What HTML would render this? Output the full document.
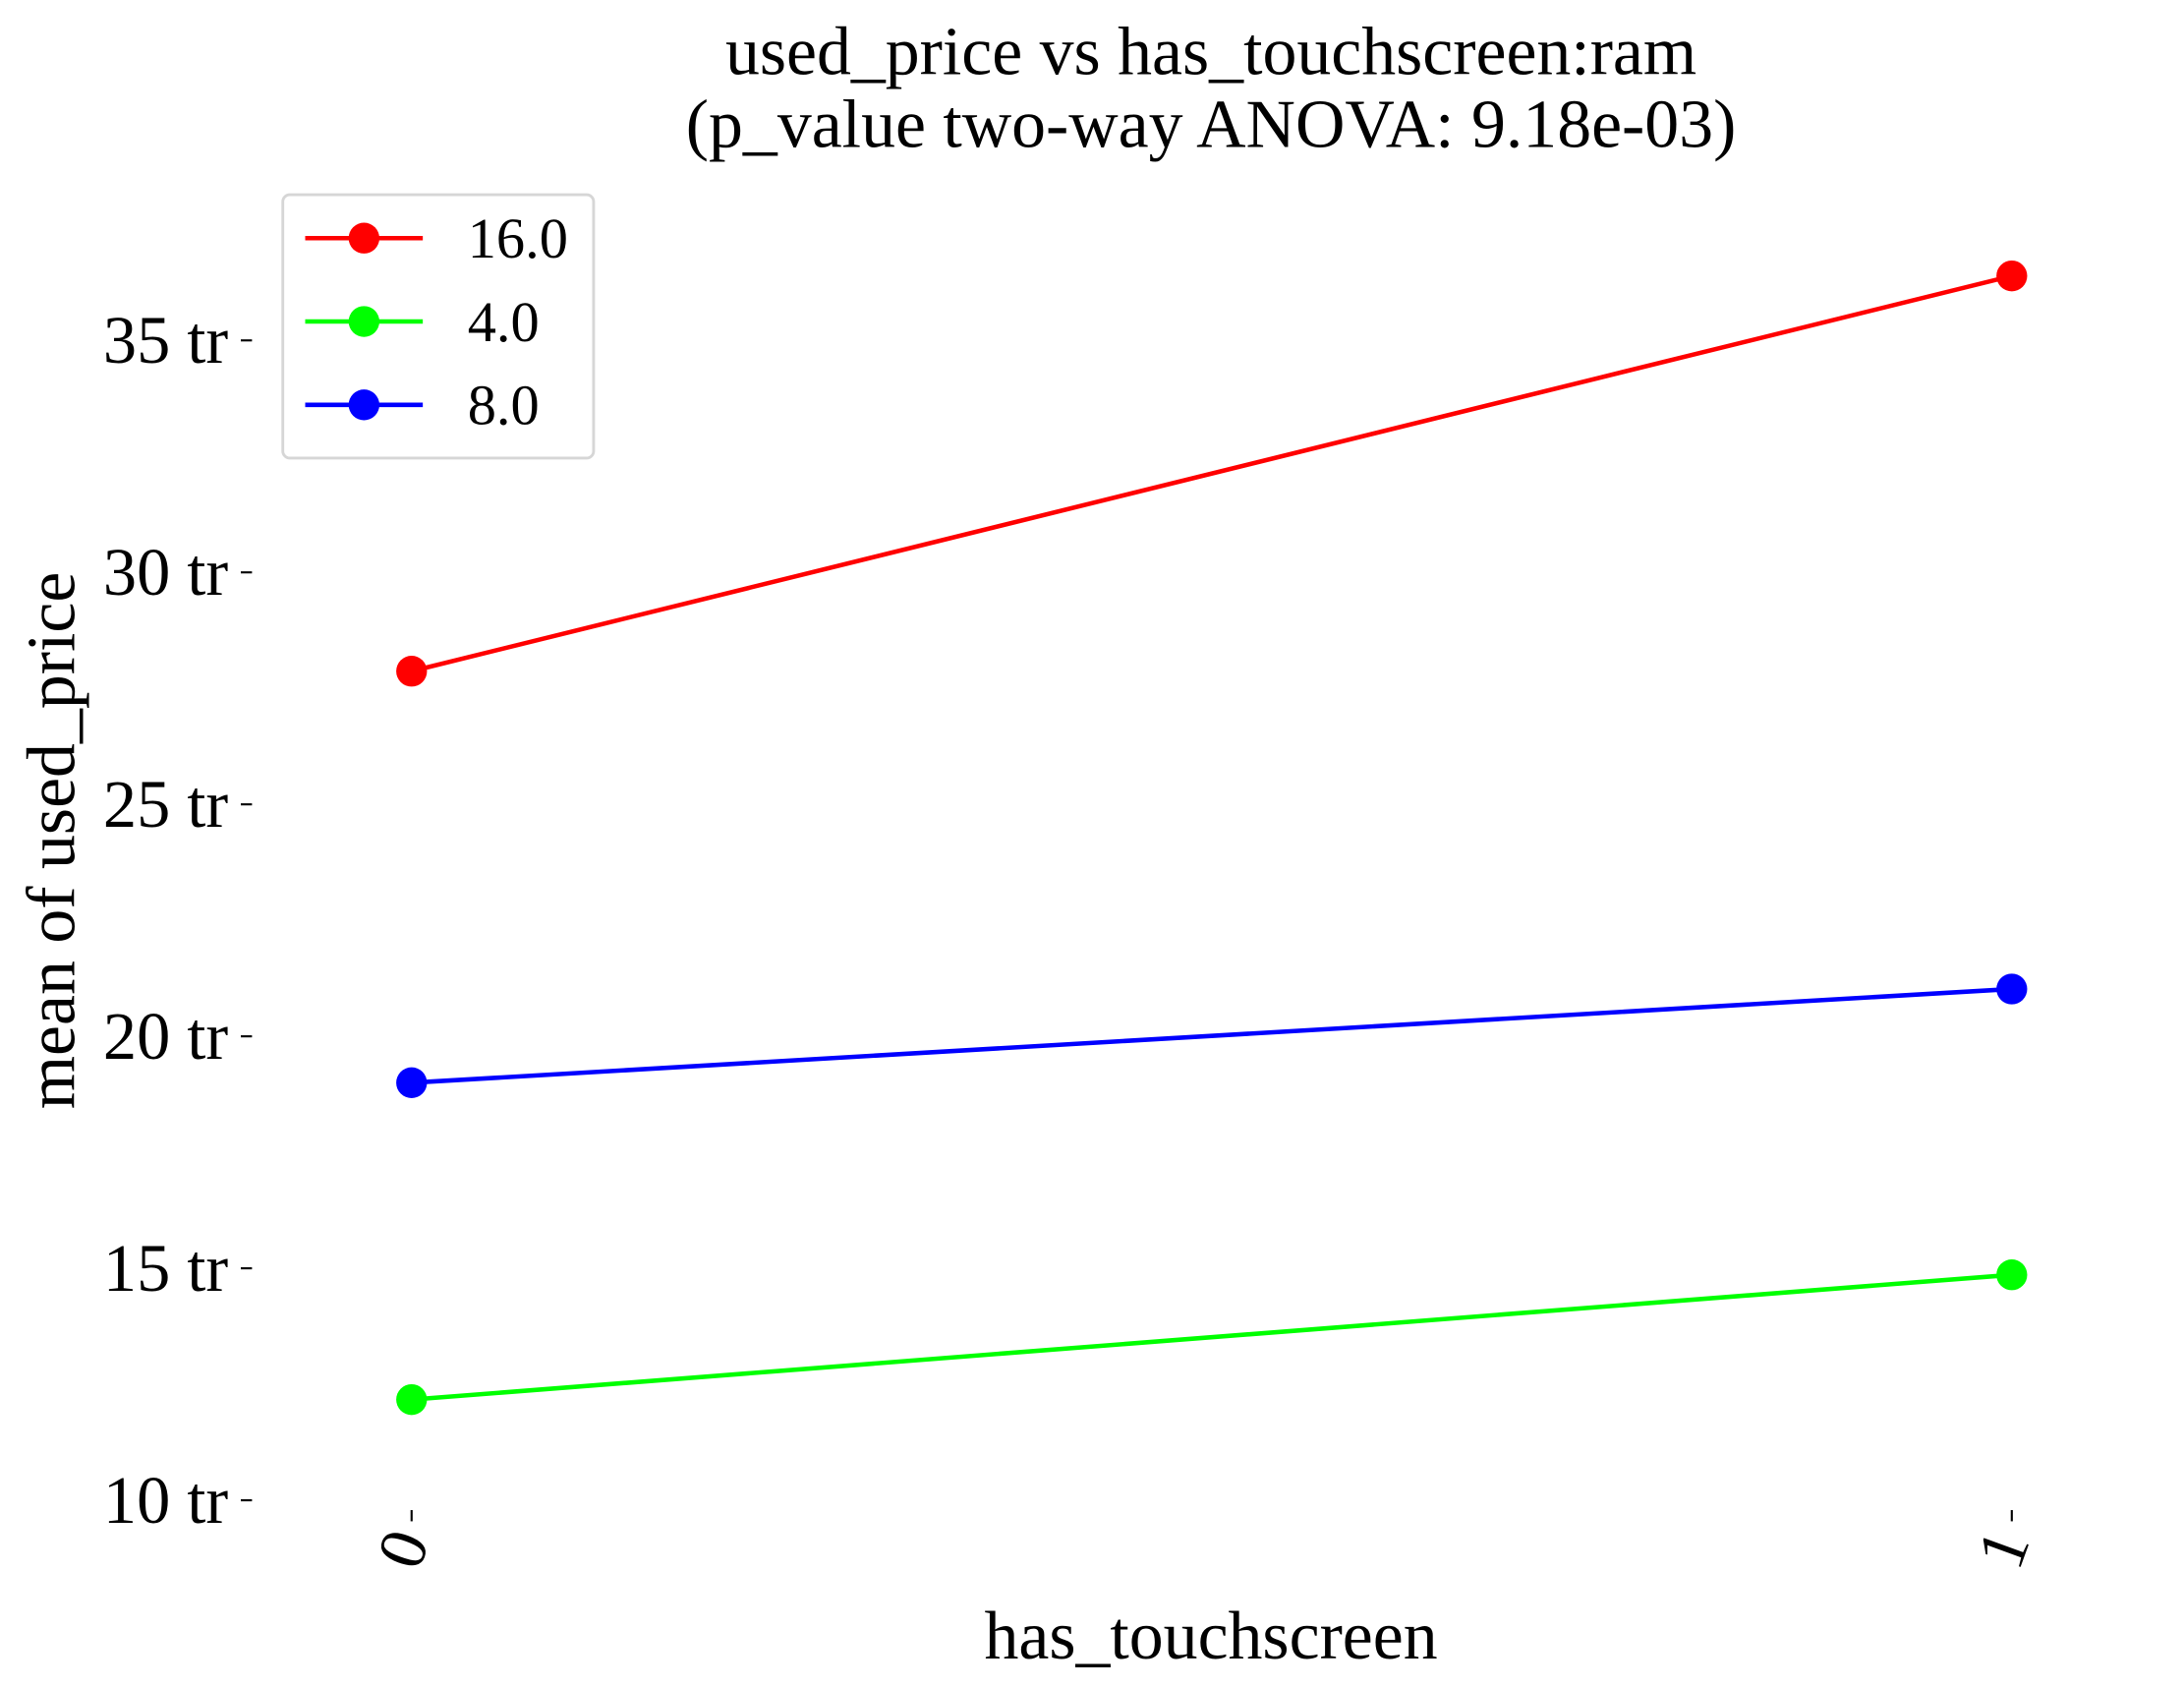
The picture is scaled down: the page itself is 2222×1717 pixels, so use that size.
<!DOCTYPE html>
<html><head><meta charset="utf-8"><style>
html,body{margin:0;padding:0;background:#fff;}
svg{display:block;font-family:"Liberation Serif",serif;}
</style></head><body>
<svg id="chart" width="2222" height="1717" viewBox="0 0 1560 1205" preserveAspectRatio="none" xmlns="http://www.w3.org/2000/svg">
<text x="865" y="53" font-size="49" text-anchor="middle">used_price vs has_touchscreen:ram</text>
<text x="865" y="105" font-size="49" text-anchor="middle">(p_value two-way ANOVA: 9.18e-03)</text>
<text transform="translate(53,600) rotate(-90)" font-size="49" text-anchor="middle">mean of used_price</text>
<text x="865" y="1184" font-size="49" text-anchor="middle">has_touchscreen</text>
<g id="yaxis"></g>
<g id="xaxis"></g>
<g id="series"></g>
<g id="legend"></g>
</svg>
<script>
const categories = ["0", "1"];
const seriesNames = ["16.0", "4.0", "8.0"];
const seriesColors = ["#ff0000", "#00ff00", "#0000ff"];
const values16 = [27.87, 36.39];
const values4 = [12.17, 14.86];
const values8 = [19.0, 21.02];
const yTicks = [10, 15, 20, 25, 30, 35];
const yTickLabels = ["10 tr", "15 tr", "20 tr", "25 tr", "30 tr", "35 tr"];

const NS = "http://www.w3.org/2000/svg";
function y(v){ return 1071 - (v - 10) * 33.12; }
function x(i){ return 294 + i * (1437 - 294); }
function mk(tag, attrs, parent){ const e = document.createElementNS(NS, tag); for (const k in attrs) e.setAttribute(k, attrs[k]); parent.appendChild(e); return e; }

const ya = document.getElementById('yaxis');
yTicks.forEach((t, i) => {
  const ln = mk('line', {x1:172, x2:180, y1:y(t), y2:y(t), stroke:'#000', 'stroke-width':1.5}, ya);
  
  
  const tx = mk('text', {x:163, y:y(t)+16, 'font-size':48, 'text-anchor':'end'}, ya);
  tx.textContent = yTickLabels[i];
  
  
});
const xa = document.getElementById('xaxis');
categories.forEach((c, i) => {
  const ln = mk('line', {x1:x(i), x2:x(i), y1:1078, y2:1086, stroke:'#000', 'stroke-width':1.5}, xa);
  
  
  const tx = mk('text', {transform:`translate(${x(i)+13},1100) rotate(-70)`, 'font-size':48, 'text-anchor':'end'}, xa);
  tx.textContent = c;
  
  
});
const sg = document.getElementById('series');
const allVals = [values16, values4, values8];
allVals.forEach((vals, s) => {
  const pts = vals.map((v, i) => x(i) + ',' + y(v)).join(' ');
  const pl = mk('polyline', {points:pts, fill:'none', stroke:seriesColors[s], 'stroke-width':3.2}, sg);
  
  
  vals.forEach((v, i) => {
    const c = mk('circle', {cx:x(i), cy:y(v), r:11, fill:seriesColors[s]}, sg);
    
    
  });
});
const lg = document.getElementById('legend');
const box = mk('rect', {x:202, y:139, width:222, height:188, rx:5, fill:'#fff', stroke:'#d6d6d6', 'stroke-width':2}, lg);


seriesNames.forEach((n, s) => {
  const yy = 170 + s * 59.5;
  const g = mk('g', {}, lg);
  
  
  mk('line', {x1:218, x2:302, y1:yy, y2:yy, stroke:seriesColors[s], 'stroke-width':3.2}, g);
  mk('circle', {cx:260, cy:yy, r:11, fill:seriesColors[s]}, g);
  const t = mk('text', {x:334, y:yy+14, 'font-size':41}, g);
  t.textContent = n;
});
</script>
</body></html>
